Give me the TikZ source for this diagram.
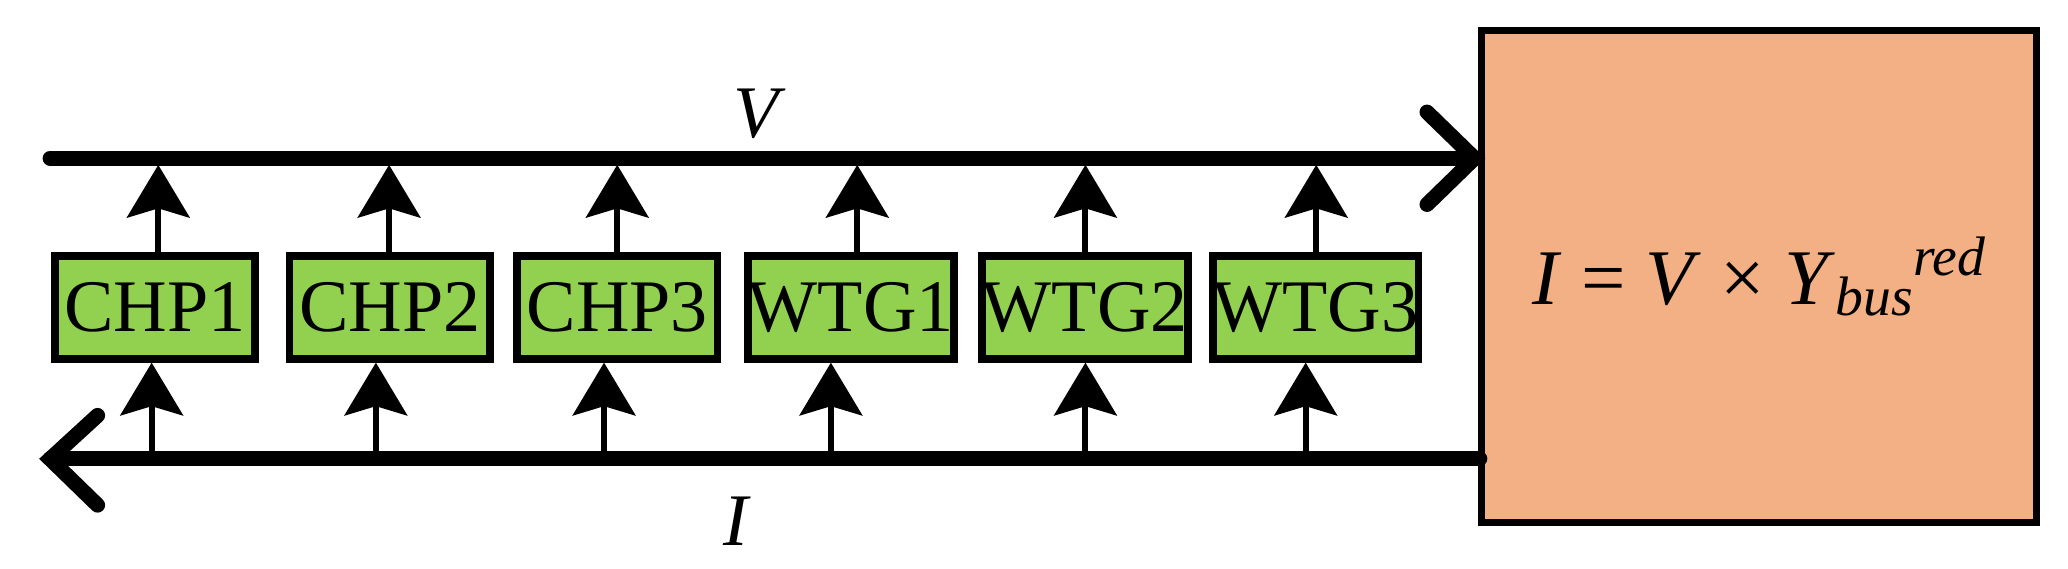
\documentclass[tikz,border=0pt]{standalone}
\usepackage{fontspec}
\setmainfont{Liberation Serif}
\usetikzlibrary{arrows.meta}
\begin{document}
\begin{tikzpicture}[x=0.02cm,y=-0.02cm,
  bus/.style={line width=6.5pt,line cap=round},
  chev/.style={line width=6.5pt,line cap=round,line join=miter},
  unit/.style={draw,line width=3.4pt,fill={rgb,255:red,146;green,208;blue,80},minimum width=152*0.02cm,minimum height=78*0.02cm,inner sep=0pt,font=\fontsize{32}{32}\selectfont},
  up/.style={line width=2.6pt,-{Stealth[length=0.8cm,width=0.95cm,inset=0.14cm]}}]
\useasboundingbox (0,0) rectangle (1568,431);
\node[draw,line width=3pt,fill={rgb,255:red,242;green,176;blue,132},minimum width=421*0.02cm,minimum height=373*0.02cm,inner sep=0pt,font=\fontsize{34}{34}\selectfont] (sys) at (1333.5,209.5) {\textit{I} = \textit{V} × \textit{Y}\raisebox{-0.3ex}{\fontsize{24}{24}\selectfont\textit{bus}}\raisebox{0.8ex}{\fontsize{24}{24}\selectfont\textit{red}}};
\coordinate (vs) at (38,120); \coordinate (ve) at (1118,120);
\coordinate (is) at (1122,348); \coordinate (ie) at (38,348);
\draw[bus] (vs) -- (ve);
\draw[chev] (1082,85) -- (ve) -- (1082,155);
\draw[bus] (is) -- (ie);
\draw[chev] (74,315) -- (ie) -- (74,383);
\node[font=\fontsize{32}{32}\selectfont\itshape] (vl) at (573,86) {V};
\node[font=\fontsize{32}{32}\selectfont\itshape] (il) at (558,395) {I};
\foreach \n/\t/\x/\tx/\bx in {c1/CHP1/117.5/120/115, c2/CHP2/295.5/295/285, c3/CHP3/468/468/458, w1/WTG1/645/650/630, w2/WTG2/822.5/823/823, w3/WTG3/997.5/998/990}{
  \node[unit] (\n) at (\x,233) {\t};
  \coordinate (\n t) at (\tx,125);
  \coordinate (\n b) at (\bx,344);
  \draw[up] (\n.north -| \n t) -- (\n t);
  \draw[up] (\n b) -- (\n.south -| \n b);
}
\end{tikzpicture}
\end{document}
